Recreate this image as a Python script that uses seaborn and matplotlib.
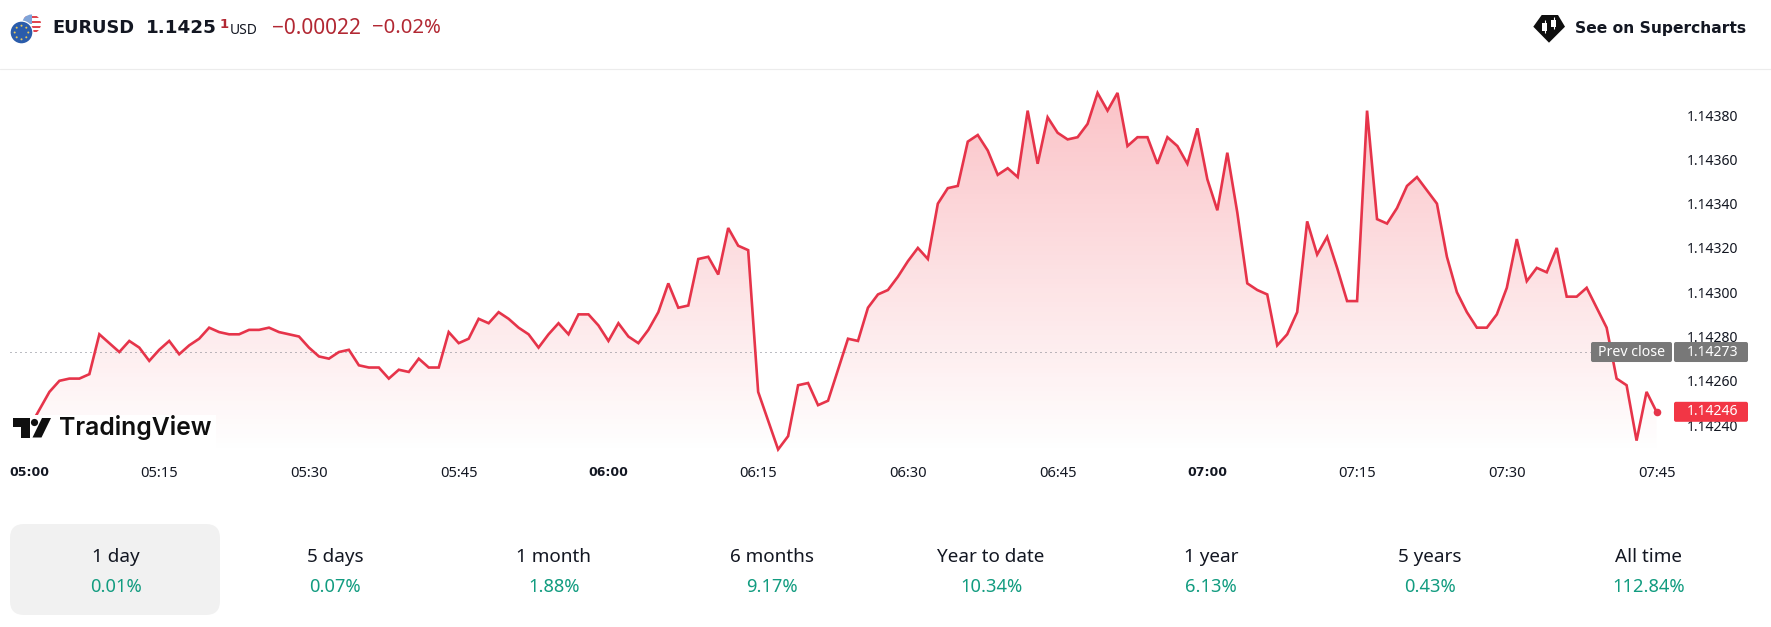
import numpy as np
import pandas as pd
import matplotlib
matplotlib.use("Agg")
import matplotlib.pyplot as plt
from matplotlib.patches import Rectangle, FancyBboxPatch, Polygon, Circle
import seaborn as sns

# ---------- data ----------
prices = [
 1.14235,1.14237,1.14239,1.14247,1.14255,1.14260,1.14261,1.14261,1.14263,1.14281,
 1.14277,1.14273,1.14278,1.14275,1.14269,1.14274,1.14278,1.14272,1.14276,1.14279,
 1.14284,1.14282,1.14281,1.14281,1.14283,1.14283,1.14284,1.14282,1.14281,1.14280,
 1.14275,1.14271,1.14270,1.14273,1.14274,1.14267,1.14266,1.14266,1.14261,1.14265,
 1.14264,1.14270,1.14266,1.14266,1.14282,1.14277,1.14279,1.14288,1.14286,1.14291,
 1.14288,1.14284,1.14281,1.14275,1.14281,1.14286,1.14281,1.14290,1.14290,1.14285,
 1.14278,1.14286,1.14280,1.14277,1.14283,1.14291,1.14304,1.14293,1.14294,1.14315,
 1.14316,1.14308,1.14329,1.14321,1.14319,1.14255,1.14242,1.14229,1.14235,1.14258,
 1.14259,1.14249,1.14251,1.14265,1.14279,1.14278,1.14293,1.14299,1.14301,1.14307,
 1.14314,1.14320,1.14315,1.14340,1.14347,1.14348,1.14368,1.14371,1.14364,1.14353,
 1.14356,1.14352,1.14382,1.14358,1.14379,1.14372,1.14369,1.14370,1.14376,1.14390,
 1.14382,1.14390,1.14366,1.14370,1.14370,1.14358,1.14370,1.14366,1.14358,1.14374,
 1.14351,1.14337,1.14363,1.14336,1.14304,1.14301,1.14299,1.14276,1.14281,1.14291,
 1.14332,1.14317,1.14325,1.14311,1.14296,1.14296,1.14382,1.14333,1.14331,1.14338,
 1.14348,1.14352,1.14346,1.14340,1.14316,1.14300,1.14291,1.14284,1.14284,1.14290,
 1.14302,1.14324,1.14305,1.14311,1.14309,1.14320,1.14298,1.14298,1.14302,1.14293,
 1.14284,1.14261,1.14258,1.14233,1.14255,1.14246,
]
prev_close = 1.14273
last_price = 1.14246
y_ticks = [1.14240, 1.14260, 1.14280, 1.14300, 1.14320, 1.14340, 1.14360, 1.14380]
x_tick_minutes = [15, 30, 45, 60, 75, 90, 105, 120, 135, 150, 165]
x_tick_labels = ["05:15", "05:30", "05:45", "06:00", "06:15", "06:30",
                 "06:45", "07:00", "07:15", "07:30", "07:45"]
bold_ticks = ["06:00", "07:00"]
periods = ["1 day", "5 days", "1 month", "6 months", "Year to date", "1 year", "5 years", "All time"]
returns = ["0.01%", "0.07%", "1.88%", "9.17%", "10.34%", "6.13%", "0.43%", "112.84%"]

# ---------- style ----------
RED = "#e6344a"
TEXT = "#131722"
GREEN = "#129c80"
DOWN = "#b22833"
GREY = "#787b86"
BOLD = "DejaVu Sans"
sns.set_theme(style="white")
plt.rcParams["font.family"] = ["Noto Sans", "DejaVu Sans"]

W, H = 1771, 627
fig = plt.figure(figsize=(W / 100, H / 100), dpi=100, facecolor="white")
ax = fig.add_axes([0, (H - 453) / H, 1680 / W, (453 - 69) / H])
ax.patch.set_alpha(0)

df = pd.DataFrame({"minute": np.arange(len(prices)), "price": prices})
XLIM = (-0.952, 167.35)
YLIM = (1.142274, 1.144008)

# gradient area under the line
band = ax.fill_between(df["minute"], df["price"], YLIM[0], facecolor="none", edgecolor="none")
alpha = np.linspace(0.31, 0.0, 256).reshape(-1, 1)
rgba = np.ones((256, 1, 4))
rgba[..., 0], rgba[..., 1], rgba[..., 2] = 0.949, 0.212, 0.271
rgba[..., 3] = alpha
grad = ax.imshow(rgba, extent=(XLIM[0], XLIM[1], YLIM[0], 1.14395), origin="upper",
                 aspect="auto", zorder=1, interpolation="bilinear")
grad.set_clip_path(band.get_paths()[0], transform=ax.transData)

ax.hlines(prev_close, 0, XLIM[1], color=GREY, lw=0.72, linestyles=(0, (1, 4)), zorder=1.5)
sns.lineplot(data=df, x="minute", y="price", ax=ax, color=RED, lw=1.9, zorder=3,
             estimator=None, solid_joinstyle="miter")
ax.scatter([df["minute"].iloc[-1]], [last_price], s=30, color=RED, zorder=4, linewidths=0)

ax.set_xlim(*XLIM)
ax.set_ylim(*YLIM)
ax.set_xlabel("")
ax.set_ylabel("")
for s in ax.spines.values():
    s.set_visible(False)
ax.yaxis.tick_right()
ax.set_yticks(y_ticks)
ax.set_yticklabels([f"{v:.5f}" for v in y_ticks], fontsize=10.1, color=TEXT)
ax.set_xticks(x_tick_minutes)
ax.set_xticklabels(x_tick_labels, fontsize=10.6, color=TEXT)
for lab in ax.get_xticklabels():
    if lab.get_text() in bold_ticks:
        lab.set_fontweight("bold")
        lab.set_family(BOLD)
        lab.set_fontsize(9.0)
ax.tick_params(axis="both", length=0)
ax.tick_params(axis="x", pad=9.5)
ax.tick_params(axis="y", pad=5)
ax.grid(False)

# ---------- overlay in pixel coordinates ----------
ov = fig.add_axes([0, 0, 1, 1], zorder=10)
ov.set_xlim(0, W)
ov.set_ylim(H, 0)
ov.axis("off")
ov.patch.set_alpha(0)

fig.canvas.draw()


def price_px(v):
    return H - ax.transData.transform((0, v))[1]


# separator
ov.plot([0, W], [68.5, 68.5], color="#ececec", lw=0.8)

# clipped first time label
t0 = ov.text(29, 472, "05:00", fontsize=9.0, fontweight="bold", family=BOLD, color=TEXT, ha="center", va="center")
t0.set_clip_path(Rectangle((11, 455), 60, 35, transform=ov.transData))

# prev close and last price flags
yc = price_px(prev_close)
ov.add_patch(FancyBboxPatch((1591, yc - 10), 81, 20, boxstyle="round,pad=0,rounding_size=2", fc="#787878", ec="none"))
ov.add_patch(FancyBboxPatch((1674, yc - 10), 74, 20, boxstyle="round,pad=0,rounding_size=2", fc="#787878", ec="none"))
ov.text(1631.5, yc, "Prev close", fontsize=10.2, color="white", ha="center", va="center")
ov.text(1712.5, yc, f"{prev_close:.5f}", fontsize=10.1, color="white", ha="center", va="center")
yl = price_px(last_price)
ov.add_patch(FancyBboxPatch((1674, yl - 10), 74, 20, boxstyle="round,pad=0,rounding_size=2", fc="#f23645", ec="none"))
ov.text(1712.5, yl, f"{last_price:.5f}", fontsize=10.1, color="white", ha="center", va="center")

# TradingView logo
ov.add_patch(Rectangle((8, 415), 208, 33, fc="white", ec="none"))
ov.add_patch(Polygon([(13, 418), (30, 418), (30, 437.5), (21, 437.5), (21, 427), (13, 427)], fc="#0f0f0f", ec="none"))
ov.add_patch(Circle((34.5, 422.5), 3.6, fc="#0f0f0f", ec="none"))
ov.add_patch(Polygon([(42, 418), (51, 418), (41.5, 437.5), (32.5, 437.5)], fc="#0f0f0f", ec="none"))
ov.text(59, 428, "TradingView", fontsize=17.8, fontweight="semibold", color="#0f0f0f",
        ha="left", va="center", family="Inter")

# header icon
ov.add_patch(Circle((31.5, 24), 9.5, fc="white", ec="none"))
for y0 in (15.5, 20.5, 25.5, 30):
    r = Rectangle((22, y0), 20, 2.4, fc="#e0454f", ec="none", transform=ov.transData)
    ov.add_patch(r)
    r.set_clip_path(Circle((31.5, 24), 9.5, transform=ov.transData))
canton = Rectangle((22, 14), 10, 9.5, fc="#7fa3d8", ec="none", transform=ov.transData)
ov.add_patch(canton)
canton.set_clip_path(Circle((31.5, 24), 9.5, transform=ov.transData))
ov.add_patch(Circle((21.5, 32.5), 12, fc="white", ec="none"))
ov.add_patch(Circle((21.5, 32.5), 10.8, fc="#2a5cab", ec="none"))
for a in np.deg2rad(np.arange(0, 360, 45)):
    ov.add_patch(Circle((21.5 + 6.8 * np.cos(a), 32.5 + 6.8 * np.sin(a)), 1.0, fc="#e8c95a", ec="none"))

# header text
ov.text(52, 28, "EURUSD", fontsize=12.8, fontweight="bold", family=BOLD, color=TEXT, va="center", ha="left")
ov.text(146, 28, "1.1425", fontsize=13.2, fontweight="bold", family=BOLD, color=TEXT, va="center", ha="left")
ov.text(220, 25, "1", fontsize=9.5, color=DOWN, va="center", ha="left", fontweight="bold", family=BOLD)
ov.text(230, 31, "USD", fontsize=10, color=TEXT, va="center", ha="left")
ov.text(272, 28, "\u22120.00022", fontsize=15, color=DOWN, va="center", ha="left")
ov.text(372, 28, "\u22120.02%", fontsize=14.6, color=DOWN, va="center", ha="left")

# Supercharts button
ov.add_patch(Polygon([(1533.3, 26.7), (1541.7, 15), (1558, 15), (1565, 26.7), (1549, 42.7)], fc="#0f0f0f", ec="none"))
for cx, top, bot in [(1545, 20, 33), (1554, 17, 29)]:
    ov.plot([cx, cx], [top, bot], color="white", lw=0.8, solid_capstyle="butt")
    ov.add_patch(Rectangle((cx - 2.5, top + 2.5), 5, bot - top - 5, fc="white", ec="none"))
ov.text(1575, 28, "See on Supercharts", fontsize=11.2, fontweight="bold", family=BOLD, color=TEXT, va="center", ha="left")

# period tabs
ov.add_patch(FancyBboxPatch((10, 524), 210, 91, boxstyle="round,pad=0,rounding_size=14", fc="#f1f1f1", ec="none"))
tab_x = [116, 335, 554, 772, 991, 1211, 1430, 1649]
for cx, p, r in zip(tab_x, periods, returns):
    ov.text(cx, 557, p, fontsize=13.6, color=TEXT, ha="center", va="center")
    ov.text(cx, 587, r, fontsize=13.2, color=GREEN, ha="center", va="center")

fig.savefig("out.png", dpi=100, facecolor="white")
